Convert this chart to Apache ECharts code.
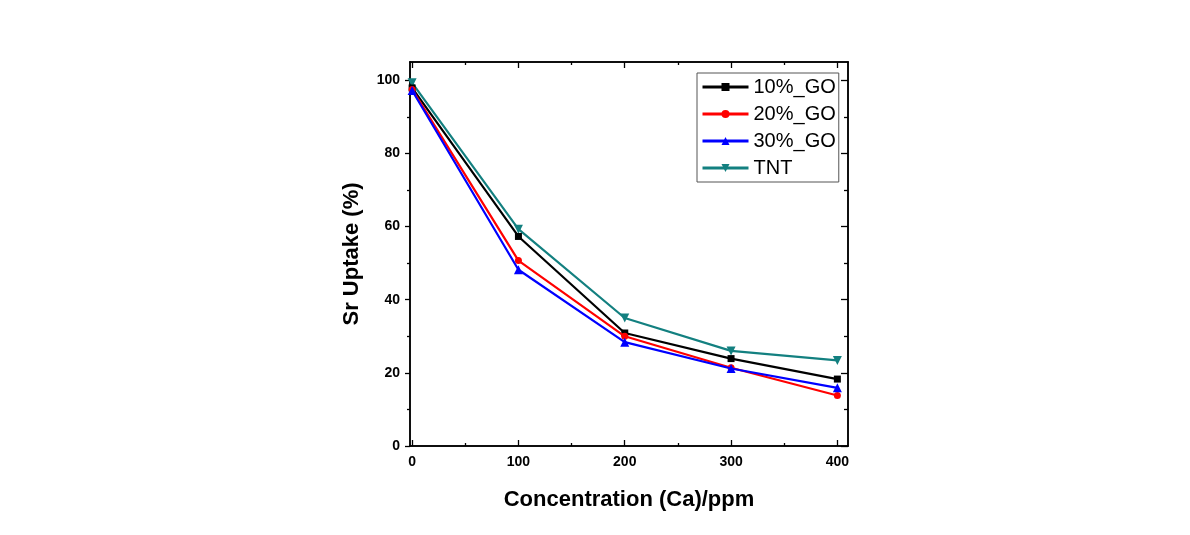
<!DOCTYPE html>
<html>
<head>
<meta charset="utf-8">
<script src="https://cdn.jsdelivr.net/npm/echarts@6/dist/echarts.min.js"></script>
<style>
html,body{margin:0;padding:0;background:#fff;}
#chart{width:1190px;height:535px;}
</style>
</head>
<body>
<div id="chart"></div>
<script>
const concentrations = [0, 100, 200, 300, 400];
const go10 = [97.9, 57.3, 30.9, 23.9, 18.3];
const go20 = [97.5, 50.7, 30.0, 21.4, 13.8];
const go30 = [97.2, 48.2, 28.4, 21.2, 15.9];
const tnt  = [99.3, 59.3, 35.0, 26.0, 23.4];
const xMajorTicks = [0, 100, 200, 300, 400];
const xMinorTicks = [50, 150, 250, 350];
const yMajorTicks = [0, 20, 40, 60, 80, 100];
const yMinorTicks = [10, 30, 50, 70, 90];

const pairs = arr => concentrations.map((c, i) => [c, arr[i]]);
const FONT = 'Liberation Sans, Arial, sans-serif';
const X_MIN = -2, X_MAX = 410, Y_MIN = 0, Y_MAX = 105;

function xAx(extra) {
  return Object.assign({
    type: 'value', min: X_MIN, max: X_MAX, splitLine: {show: false},
    axisLine: {show: true, onZero: false, lineStyle: {color: '#000', width: 1.5}},
    axisLabel: {show: false}, axisTick: {show: false}
  }, extra);
}
function yAx(extra) {
  return Object.assign({
    type: 'value', min: Y_MIN, max: Y_MAX, splitLine: {show: false},
    axisLine: {show: true, onZero: false, lineStyle: {color: '#000', width: 1.5}},
    axisLabel: {show: false}, axisTick: {show: false}
  }, extra);
}

const chart = echarts.init(document.getElementById('chart'), null, {renderer: 'canvas'});
chart.setOption({
  animation: false,
  backgroundColor: '#fff',
  grid: {left: 410, right: 342, top: 62, bottom: 89, containLabel: false},
  xAxis: [
    xAx({position: 'bottom',
      name: 'Concentration (Ca)/ppm', nameLocation: 'middle', nameGap: 43,
      nameTextStyle: {fontFamily: FONT, fontSize: 22, fontWeight: 'bold', color: '#000'},
      axisTick: {show: true, inside: true, length: 6, customValues: xMajorTicks, lineStyle: {color: '#000', width: 1.3}},
      axisLabel: {show: true, customValues: xMajorTicks, margin: 9, fontFamily: FONT, fontSize: 14, fontWeight: 'bold', color: '#000'}
    }),
    xAx({position: 'bottom',
      axisTick: {show: true, inside: true, length: 3, customValues: xMinorTicks, lineStyle: {color: '#000', width: 1.3}}}),
    xAx({position: 'top',
      axisTick: {show: true, inside: true, length: 6, customValues: xMajorTicks, lineStyle: {color: '#000', width: 1.3}}}),
    xAx({position: 'top',
      axisTick: {show: true, inside: true, length: 3, customValues: xMinorTicks, lineStyle: {color: '#000', width: 1.3}}})
  ],
  yAxis: [
    yAx({position: 'left',
      name: 'Sr Uptake (%)', nameLocation: 'middle', nameGap: 47, nameRotate: 90,
      nameTextStyle: {fontFamily: FONT, fontSize: 22, fontWeight: 'bold', color: '#000'},
      axisTick: {show: true, inside: false, length: 5, customValues: yMajorTicks, lineStyle: {color: '#000', width: 1.3}},
      axisLabel: {show: true, customValues: yMajorTicks, margin: 10, fontFamily: FONT, fontSize: 14, fontWeight: 'bold', color: '#000'}
    }),
    yAx({position: 'left',
      axisTick: {show: true, inside: false, length: 3, customValues: yMinorTicks, lineStyle: {color: '#000', width: 1.3}}}),
    yAx({position: 'right',
      axisTick: {show: true, inside: true, length: 7, customValues: yMajorTicks, lineStyle: {color: '#000', width: 1.3}}}),
    yAx({position: 'right',
      axisTick: {show: true, inside: true, length: 4, customValues: yMinorTicks, lineStyle: {color: '#000', width: 1.3}}})
  ],
  legend: {
    orient: 'vertical', left: 697, top: 73,
    padding: [4, 3, 4, 4], itemGap: 7, itemWidth: 46, itemHeight: 10,
    borderColor: '#555', borderWidth: 1, backgroundColor: '#fff',
    lineStyle: {width: 3},
    textStyle: {fontFamily: FONT, fontSize: 20, color: '#000', lineHeight: 20},
    data: ['10%_GO', '20%_GO', '30%_GO', 'TNT']
  },
  series: [
    {name: 'TNT', type: 'line', data: pairs(tnt), color: '#138080',
      symbol: 'triangle', symbolRotate: 180, symbolSize: 9, lineStyle: {width: 2.2}, z: 2},
    {name: '10%_GO', type: 'line', data: pairs(go10), color: '#000000',
      symbol: 'rect', symbolSize: 7, lineStyle: {width: 2.2}, z: 3},
    {name: '20%_GO', type: 'line', data: pairs(go20), color: '#ff0000',
      symbol: 'circle', symbolSize: 7, lineStyle: {width: 2.2}, z: 4},
    {name: '30%_GO', type: 'line', data: pairs(go30), color: '#0000ff',
      symbol: 'triangle', symbolSize: 9, lineStyle: {width: 2.2}, z: 5}
  ]
});
</script>
</body>
</html>
